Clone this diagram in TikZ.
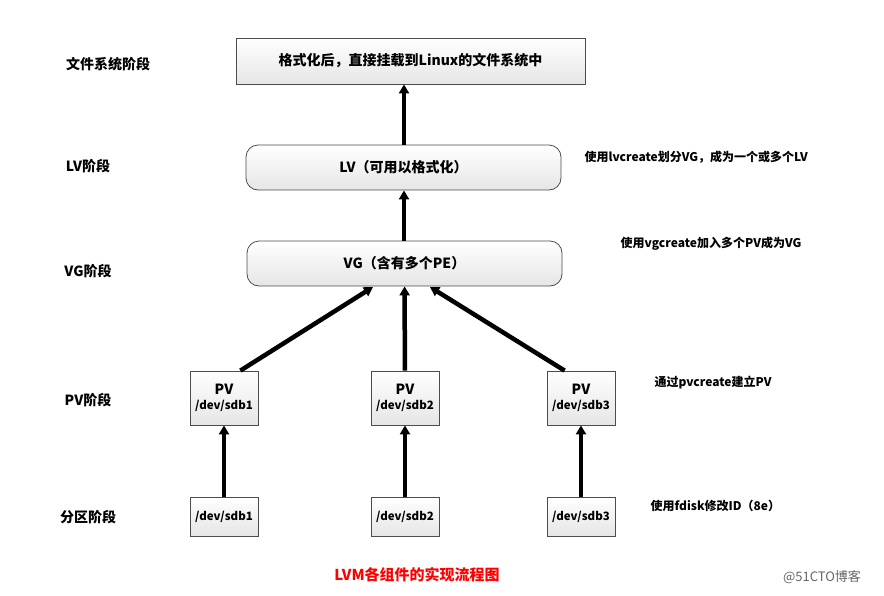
\documentclass[tikz,border=0pt]{standalone}
\usepackage{fontspec}
\setmainfont{Noto Sans CJK SC}
\usetikzlibrary{arrows.meta}
\begin{document}
\begin{tikzpicture}[x=1pt,y=-1pt,
 box/.style={draw=black!70,line width=0.8pt,top color=white,bottom color=black!10,inner sep=0pt,font=\fontsize{14}{16}\selectfont\bfseries},
 rbox/.style={box,rounded corners=12pt},
 lab/.style={font=\fontsize{14}{16}\selectfont\bfseries},
 note/.style={font=\fontsize{12}{14}\selectfont\bfseries,anchor=west},
 arr/.style={line width=4.5pt,-{Triangle[length=9pt,width=10pt]}}]
\useasboundingbox (0,0) rectangle (884,595);
\node[box,minimum width=349pt,minimum height=46pt] (fs) at (410.5,61) {格式化后，直接挂载到Linux的文件系统中};
\node[rbox,minimum width=315pt,minimum height=45pt] (lv) at (403.5,167.5) {LV（可用以格式化）};
\node[rbox,minimum width=315pt,minimum height=45pt] (vg) at (404.5,263.5) {VG（含有多个PE）};
\foreach \n/\x/\t in {1/224/sdb1,2/405/sdb2,3/581/sdb3}{
 \node[box,minimum width=68pt,minimum height=54pt,align=center,font=\fontsize{11.5}{15}\selectfont\bfseries] (pv\n) at (\x,398) {{\fontsize{14}{16}\selectfont PV}\\/dev/\t};
 \node[box,minimum width=68pt,minimum height=39pt,font=\fontsize{11.5}{14}\selectfont\bfseries] (pt\n) at (\x,516.5) {/dev/\t};
 \draw[arr,line width=4pt] (pt\n) -- (pv\n);
}
\draw[arr] (lv.north -| 404,0) -- (fs.south -| 404,0);
\draw[arr] (vg.north -| 404,0) -- (lv.south -| 404,0);
\path (pv1.north east)+(-18,0) coordinate (a1);
\path (pv3.north west)+(18,0) coordinate (a3);
\coordinate (v1) at (373,287); \coordinate (v3) at (430,287);
\draw[arr] (a1) -- (v1);
\draw[arr] (pv2) -- (vg);
\draw[arr] (a3) -- (v3);
\node[lab] (l1) at (108,64) {文件系统阶段};
\node[lab] (l2) at (88,166) {LV阶段};
\node[lab] (l3) at (88,271) {VG阶段};
\node[lab] (l4) at (88,400) {PV阶段};
\node[lab] (l5) at (88,517) {分区阶段};
\node[note] (n1) at (581,157) {使用lvcreate划分VG，成为一个或多个LV};
\node[note] (n2) at (617,244) {使用vgcreate加入多个PV成为VG};
\node[note] (n3) at (651,383) {通过pvcreate建立PV};
\node[note] (n4) at (647,506) {使用fdisk修改ID（8e）};
\node[font=\fontsize{15}{17}\selectfont\bfseries,text=red] (t) at (417,575) {LVM各组件的实现流程图};
\node[font=\fontsize{13}{15}\selectfont,text=black!60] (w) at (822,577) {@51CTO博客};
\end{tikzpicture}
\end{document}
